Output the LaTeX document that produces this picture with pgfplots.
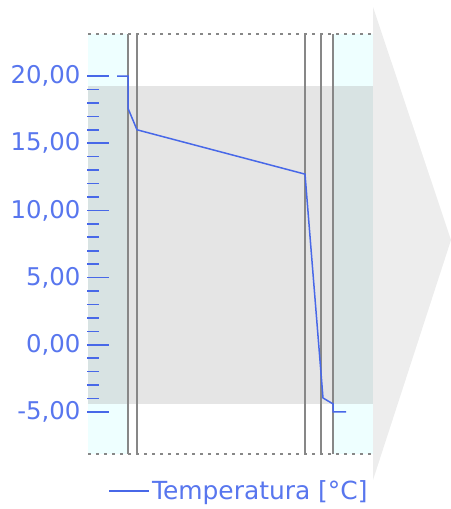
\documentclass[border=0pt]{standalone}
\usepackage{fontspec}
\setmainfont{DejaVu Sans}
\usepackage{pgfplots}
\pgfplotsset{compat=1.18}

\definecolor{tempblue}{RGB}{72,104,232}
\definecolor{labelblue}{RGB}{88,118,238}
\definecolor{zonecyan}{RGB}{238,255,255}
\definecolor{bandgray}{RGB}{229,229,229}
\definecolor{bandteal}{RGB}{216,227,227}
\definecolor{linegray}{RGB}{135,135,135}
\definecolor{arrowgray}{RGB}{237,237,237}

\begin{document}
\begin{tikzpicture}
\path[use as bounding box] (0,0) rectangle (451bp,-509bp);
% arrow shape to the right of the chart
\fill[arrowgray] (373bp,-7bp) -- (451bp,-240bp) -- (373bp,-480bp) -- cycle;

\begin{axis}[
  at={(87bp,-454bp)}, anchor=south west,
  scale only axis, width=286bp, height=420bp,
  xmin=87, xmax=373, ymin=-8.13, ymax=23.13,
  axis on top,
  axis line style={draw=none},
  xtick=\empty,
  ytick={-5,0,5,10,15,20},
  minor y tick num=4,
  ytick pos=left,
  tick align=inside,
  major tick length=22bp, minor tick length=12bp,
  every tick/.style={tempblue, line width=1.6bp},
  yticklabel style={text=labelblue, font=\fontsize{24.5}{28}\selectfont, xshift=-3bp},
  /pgf/number format/.cd, fixed, fixed zerofill, precision=2, use comma, assume math mode=true,
  /pgfplots/.cd,
  legend style={draw=none, fill=none, font=\fontsize{25}{28}\selectfont, text=labelblue,
    at={(axis description cs:0.073,-0.088)}, anchor=west, inner sep=0pt,
    legend cell align=left},
  legend image code/.code={\draw[#1, line width=2bp] (0bp,0bp) -- (40bp,0bp);},
  clip=false,
]
% comfort zones and band
\fill[zonecyan] (axis cs:88,-8.13) rectangle (axis cs:128,23.13);
\fill[zonecyan] (axis cs:333,-8.13) rectangle (axis cs:373,23.13);
\fill[bandteal] (axis cs:88,-4.4) rectangle (axis cs:128,19.25);
\fill[bandgray] (axis cs:128,-4.4) rectangle (axis cs:333,19.25);
\fill[bandteal] (axis cs:333,-4.4) rectangle (axis cs:373,19.25);
% layer boundaries
\pgfplotsinvokeforeach{128,137,305,321,333}{
  \draw[linegray, line width=1.6bp] (axis cs:#1,-8.13) -- (axis cs:#1,23.13);
}
\draw[linegray, line width=1.2bp, dash pattern=on 3bp off 5bp] (axis cs:88,23.13) -- (axis cs:373,23.13);
\draw[linegray, line width=1.2bp, dash pattern=on 3bp off 5bp] (axis cs:88,-8.13) -- (axis cs:373,-8.13);

\addplot[tempblue, line width=1.5bp] coordinates {
  (117,20.0) (128,20.0) (128,17.6) (137,16.0) (305,12.7)
  (323,-3.96) (333,-4.4) (333,-5.0) (346,-5.0)
};
\addlegendentry{Temperatura [°C]}
\end{axis}
\end{tikzpicture}
\end{document}
